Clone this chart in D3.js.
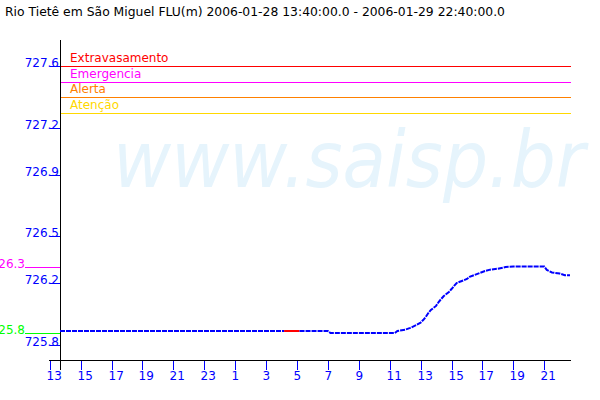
<!DOCTYPE html>
<html>
<head>
<meta charset="utf-8">
<script src="https://cdn.jsdelivr.net/npm/d3@7/dist/d3.min.js"></script>
<style>
  html, body { margin: 0; padding: 0; background: #fff; }
  svg { display: block; }
  text { font-family: "DejaVu Sans", sans-serif; }
</style>
</head>
<body>
<script>
// ---- data ----
const title = "Rio Tietê em São Miguel FLU(m) 2006-01-28 13:40:00.0 - 2006-01-29 22:40:00.0";
const times = [
  "2006-01-28 13:40","2006-01-28 15:00","2006-01-28 17:00","2006-01-28 19:00","2006-01-28 21:00",
  "2006-01-28 23:00","2006-01-29 01:00","2006-01-29 03:00","2006-01-29 04:10","2006-01-29 04:40",
  "2006-01-29 05:10","2006-01-29 06:00","2006-01-29 07:00","2006-01-29 07:10","2006-01-29 09:00",
  "2006-01-29 11:20","2006-01-29 11:30","2006-01-29 12:00","2006-01-29 12:20","2006-01-29 12:40",
  "2006-01-29 13:00","2006-01-29 13:10","2006-01-29 13:20","2006-01-29 13:30","2006-01-29 13:40",
  "2006-01-29 14:00","2006-01-29 14:10","2006-01-29 14:20","2006-01-29 14:30","2006-01-29 14:50",
  "2006-01-29 15:00","2006-01-29 15:10","2006-01-29 15:20","2006-01-29 15:40","2006-01-29 16:00",
  "2006-01-29 16:10","2006-01-29 16:30","2006-01-29 16:50","2006-01-29 17:10","2006-01-29 17:30",
  "2006-01-29 18:00","2006-01-29 18:30","2006-01-29 19:00","2006-01-29 20:00","2006-01-29 21:00",
  "2006-01-29 21:10","2006-01-29 21:30","2006-01-29 22:00","2006-01-29 22:20","2006-01-29 22:40"
];
const levels = [
  725.890,725.890,725.890,725.890,725.890,
  725.890,725.890,725.890,725.890,null,
  725.890,725.890,725.890,725.877,725.877,
  725.877,725.890,725.899,725.910,725.926,
  725.944,725.961,725.981,726.006,726.026,
  726.052,726.077,726.097,726.116,726.142,
  726.161,726.181,726.200,726.213,726.226,
  726.239,726.252,726.265,726.277,726.286,
  726.292,726.303,726.306,726.306,726.306,
  726.284,726.268,726.261,726.250,726.250
];
const thresholdNames  = ["Extravasamento", "Emergencia", "Alerta", "Atenção"];
const thresholdValues = [727.6, 727.5, 727.4, 727.3];
const thresholdColors = ["#ff0000", "#ff00ff", "#ff8000", "#ffd800"];
const yTickValues = [727.6, 727.2, 726.9, 726.5, 726.2, 725.8];
const yTickLabels = ["727.6", "727.2", "726.9", "726.5", "726.2", "725.8"];
const xTickTimes = [
  "2006-01-28 13:00","2006-01-28 15:00","2006-01-28 17:00","2006-01-28 19:00","2006-01-28 21:00",
  "2006-01-28 23:00","2006-01-29 01:00","2006-01-29 03:00","2006-01-29 05:00","2006-01-29 07:00",
  "2006-01-29 09:00","2006-01-29 11:00","2006-01-29 13:00","2006-01-29 15:00","2006-01-29 17:00",
  "2006-01-29 19:00","2006-01-29 21:00"
];
const xTickLabels = ["13","15","17","19","21","23","1","3","5","7","9","11","13","15","17","19","21"];
const maxLabel = "726.3";
const minLabel = "725.8";

// ---- chart ----
const W = 600, H = 400;
const parse = d3.timeParse("%Y-%m-%d %H:%M");
const data = times.map((t, i) => ({ t: parse(t), v: levels[i] }));

const x = d3.scaleTime()
  .domain([parse("2006-01-28 13:40"), parse("2006-01-29 22:40")])
  .range([60, 570]);
const y = d3.scaleLinear().domain([725.703, 727.768]).range([360, 40]);

const svg = d3.select("body").append("svg").attr("width", W).attr("height", H);

// watermark
svg.append("text")
  .attr("x", 113).attr("y", 187)
  .attr("font-size", 78).attr("font-style", "italic")
  .attr("fill", "#e6f4fc")
  .attr("textLength", 472).attr("lengthAdjust", "spacingAndGlyphs")
  .text("www.saisp.br");

// title
svg.append("text")
  .attr("x", 5).attr("y", 16).attr("font-size", 12).attr("fill", "#000")
  .attr("textLength", 500).attr("lengthAdjust", "spacingAndGlyphs")
  .text(title);

// thresholds
thresholdValues.forEach((v, i) => {
  svg.append("line")
    .attr("x1", 60).attr("x2", 571)
    .attr("y1", Math.round(y(v)) + 0.5).attr("y2", Math.round(y(v)) + 0.5)
    .attr("stroke", thresholdColors[i]).attr("stroke-width", 1);
  svg.append("text")
    .attr("x", 70).attr("y", Math.round(y(v)) - 4)
    .attr("font-size", 12).attr("fill", thresholdColors[i])
    .text(thresholdNames[i]);
});

// y ticks
yTickValues.forEach((v, i) => {
  const yy = Math.round(y(v)) + 0.5;
  svg.append("line").attr("x1", 50).attr("x2", 60).attr("y1", yy).attr("y2", yy)
    .attr("stroke", "#0000ff");
  svg.append("text").attr("x", 59).attr("y", yy).attr("text-anchor", "end")
    .attr("font-size", 12).attr("fill", "#0000ff").text(yTickLabels[i]);
});

// x ticks
xTickTimes.forEach((t, i) => {
  const xx = Math.round(x(parse(t))) + 0.5;
  svg.append("line").attr("x1", xx).attr("x2", xx).attr("y1", 360).attr("y2", 370)
    .attr("stroke", "#0000ff");
  svg.append("text").attr("x", xx - 4).attr("y", 380)
    .attr("font-size", 12).attr("fill", "#0000ff").text(xTickLabels[i]);
});

// axes
svg.append("line").attr("x1", 60.5).attr("x2", 60.5).attr("y1", 40).attr("y2", 370).attr("stroke", "#000");
svg.append("line").attr("x1", 49).attr("x2", 571).attr("y1", 360.5).attr("y2", 360.5).attr("stroke", "#000");

// max / min markers
const valid = data.filter(d => d.v !== null);
const vmax = d3.max(valid, d => d.v), vmin = d3.min(valid, d => d.v);
[[vmax, "#ff00ff", maxLabel], [vmin, "#00ff00", minLabel]].forEach(([v, c, lab]) => {
  const yy = Math.round(y(v)) + 0.5;
  svg.append("line").attr("x1", 25).attr("x2", 60).attr("y1", yy).attr("y2", yy).attr("stroke", c);
  svg.append("text").attr("x", 25).attr("y", yy).attr("text-anchor", "end")
    .attr("font-size", 12).attr("fill", c).text(lab);
});

// gap connector (red)
for (let i = 1; i < data.length - 1; i++) {
  if (data[i].v === null && data[i - 1].v !== null && data[i + 1].v !== null) {
    svg.append("line")
      .attr("x1", x(data[i - 1].t)).attr("x2", x(data[i + 1].t))
      .attr("y1", y(data[i - 1].v)).attr("y2", y(data[i + 1].v))
      .attr("stroke", "#ff0000").attr("stroke-width", 2);
  }
}

// data line
const line = d3.line().defined(d => d.v !== null).x(d => x(d.t)).y(d => y(d.v));
svg.append("path").datum(data)
  .attr("d", line)
  .attr("fill", "none").attr("stroke", "#0000ff").attr("stroke-width", 2)
  .attr("stroke-dasharray", "5,1");
</script>
</body>
</html>
